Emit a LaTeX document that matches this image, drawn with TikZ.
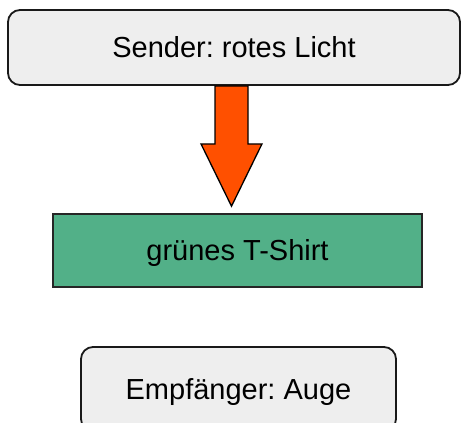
\documentclass[tikz,border=0pt]{standalone}
\usepackage{fontspec}
\setmainfont{Liberation Sans}
\usetikzlibrary{calc}
\frenchspacing
\definecolor{boxgray}{HTML}{EEEEEE}
\definecolor{shirtgreen}{HTML}{52B088}
\definecolor{lightred}{HTML}{FF5000}
\tikzset{
  roundbox/.style={draw=black!90, line width=1.8pt, fill=boxgray, rounded corners=12pt,
    inner sep=0pt, text height=20.8pt, text depth=0pt,
    font=\fontsize{29}{34}\selectfont},
  greenbox/.style={draw=black!85, line width=1.6pt, fill=shirtgreen,
    inner sep=0pt, text height=20.8pt, text depth=0pt,
    font=\fontsize{29}{34}\selectfont},
  blockarrow/.style={draw=black, line width=1.3pt, fill=lightred, line join=miter}
}
\begin{document}
\begin{tikzpicture}[x=1pt,y=-1pt]
\useasboundingbox (0,0) rectangle (461,423);
\clip (0,0) rectangle (461,423);
\node[roundbox, minimum width=452pt, minimum height=75pt] (sender) at (234,47.5) {Sender: rotes Licht};
\node[greenbox, minimum width=369pt, minimum height=73pt] (shirt) at (237.5,250.5) {grünes T-Shirt};
\node[roundbox, minimum width=315pt, minimum height=84pt] (eye) at (238.5,389) {Empfänger: Auge};
\coordinate (atop) at ($(sender.south)+(-2.5,0)$);
\coordinate (atip) at ($(shirt.north)+(-6,-7)$);
\draw[blockarrow]
  ($(atop)+(-16.5,0)$) -- ($(atop)+(16.5,0)$) -- ($(atop)+(16.5,58)$) --
  ($(atop)+(30.5,58)$) -- (atip) -- ($(atop)+(-30.5,58)$) --
  ($(atop)+(-16.5,58)$) -- cycle;
\end{tikzpicture}
\end{document}
